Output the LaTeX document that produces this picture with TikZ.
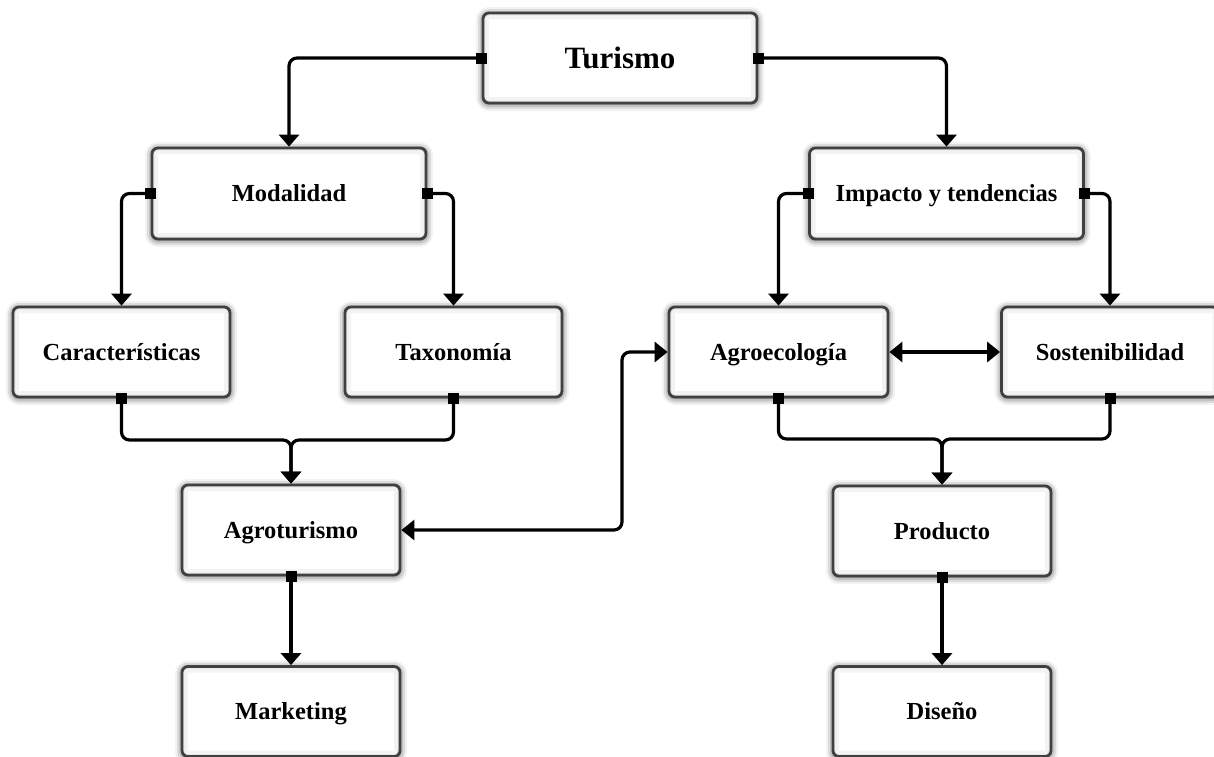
\documentclass[tikz,border=0pt]{standalone}
\usepackage{fontspec}
\setmainfont{Liberation Serif}
\usetikzlibrary{arrows.meta,shadows.blur,calc}

\begin{document}
\begin{tikzpicture}[x=1pt,y=-1pt,
  box/.style={draw=black!75, line width=2.8pt, rounded corners=6pt, fill=white,
    inner sep=0pt, minimum height=90pt, text=black,
    text height=16.2pt, text depth=0pt,
    font=\fontsize{24.5}{29}\selectfont\bfseries,
    blur shadow={shadow xshift=0pt, shadow yshift=-1pt,
      shadow blur radius=7pt, shadow opacity=75},
    path picture={
      \draw[line width=12pt, color=blue!8!gray!9, rounded corners=6pt]
        (path picture bounding box.south west) rectangle (path picture bounding box.north east);
      \draw[line width=5pt, color=blue!8!gray!15, rounded corners=6pt]
        (path picture bounding box.south west) rectangle (path picture bounding box.north east);
    }},
  wide/.style={box, minimum width=274pt},
  narrow/.style={box, minimum width=217pt},
  conn/.style={line width=3.2pt, rounded corners=8pt,
    -{Triangle[width=20pt,length=12pt]}},
  sqconn/.style={conn, {Square[length=11pt,width=11pt]}-{Triangle[width=20pt,length=12pt]},
    shorten <=-5.5pt},
  dblconn/.style={conn, {Triangle[width=20pt,length=13pt]}-{Triangle[width=20pt,length=13pt]}},
]
\useasboundingbox (0,0) rectangle (1214,756);

% boxes
\node[wide, font=\fontsize{31}{36}\selectfont\bfseries, text height=20.5pt] (tur) at (620,58) {Turismo};
\node[wide, minimum height=91pt] (mod) at (289,193.5) {Modalidad};
\node[wide, minimum height=91pt] (imp) at (946.5,193.5) {Impacto y tendencias};
\node[narrow] (car) at (121.5,352) {Características};
\node[narrow] (tax) at (453.5,352) {Taxonomía};
\node[narrow, minimum width=219pt] (agr) at (778.5,352) {Agroecología};
\node[narrow] (sos) at (1110,352) {Sostenibilidad};
\node[narrow, minimum width=218pt] (agt) at (291,530) {Agroturismo};
\node[narrow, minimum width=218pt] (pro) at (942,531) {Producto};
\node[narrow, minimum width=218pt] (mkt) at (291,711.5) {Marketing};
\node[narrow, minimum width=218pt] (dis) at (942,711.5) {Diseño};

% junction points
\coordinate (jl) at (291,440);
\coordinate (jr) at (942,439);
\coordinate (jx) at (622,0);

% connectors
\draw[sqconn] (tur.west) -| (mod.north);
\draw[sqconn] (tur.east) -| (imp.north);
\draw[sqconn] (mod.west) -| (car.north);
\draw[sqconn] (mod.east) -| (tax.north);
\draw[sqconn] (imp.west) -| (agr.north);
\draw[sqconn] (imp.east) -| (sos.north);
\draw[dblconn] (agr.east) -- (sos.west);
\draw[dblconn] (agt.east) -- (agt.east -| jx) -- (jx |- agr.west) -- (agr.west);
\draw[sqconn] (car.south) |- (jl) -- (agt.north);
\draw[sqconn] (tax.south) |- (jl) -- (agt.north);
\draw[sqconn] (agr.south) |- (jr) -- (pro.north);
\draw[sqconn] (sos.south) |- (jr) -- (pro.north);
\draw[sqconn] (agt.south) -- (mkt.north);
\draw[sqconn] (pro.south) -- (dis.north);
\end{tikzpicture}
\end{document}
